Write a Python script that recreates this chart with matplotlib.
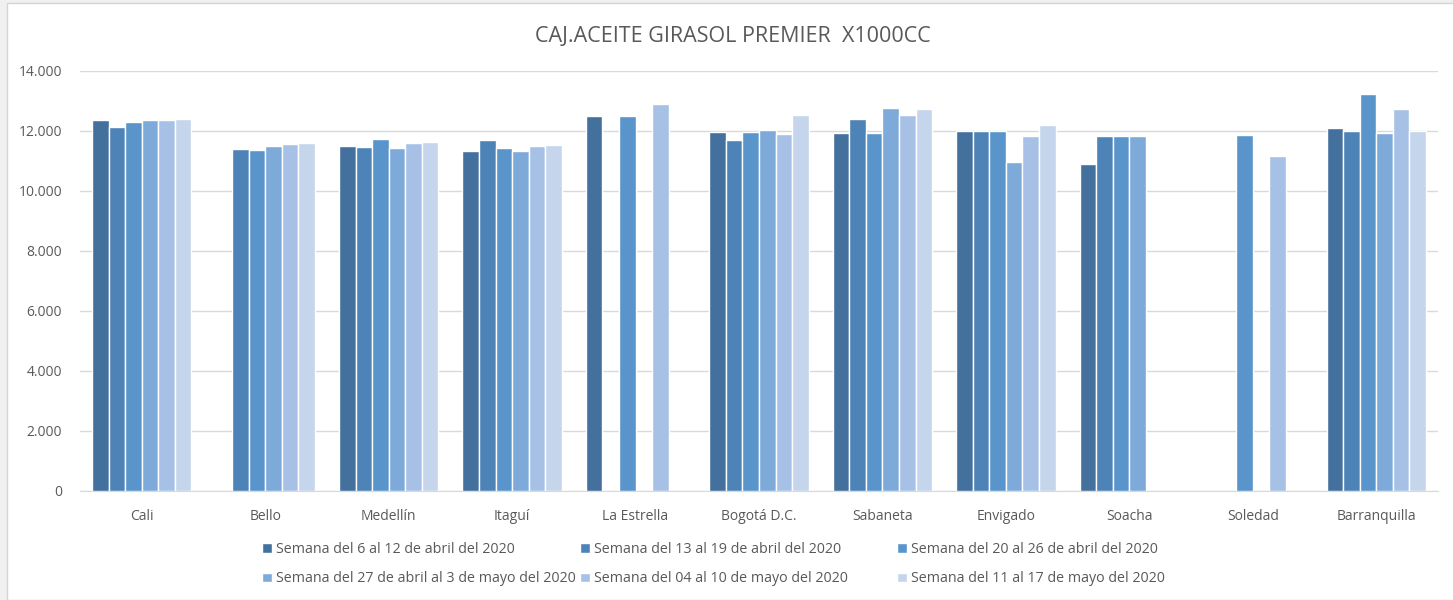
import matplotlib.pyplot as plt
import numpy as np
from matplotlib.patches import Rectangle
from matplotlib.ticker import FuncFormatter

ciudades = ["Cali", "Bello", "Medellín", "Itaguí", "La Estrella", "Bogotá D.C.",
            "Sabaneta", "Envigado", "Soacha", "Soledad", "Barranquilla"]

semanas = ["Semana del 6 al 12 de abril del 2020",
           "Semana del 13 al 19 de abril del 2020",
           "Semana del 20 al 26 de abril del 2020",
           "Semana del 27 de abril al 3 de mayo del 2020",
           "Semana del 04 al 10 de mayo del 2020",
           "Semana del 11 al 17 de mayo del 2020"]

nan = np.nan
sem1 = [12367, nan, 11500, 11333, 12490, 11967, 11933, 12000, 10911, nan, 12111]
sem2 = [12133, 11411, 11467, 11700, nan, 11700, 12400, 12000, 11844, nan, 11990]
sem3 = [12289, 11356, 11733, 11444, 12490, 11967, 11933, 12000, 11844, 11878, 13244]
sem4 = [12367, 11500, 11422, 11333, nan, 12022, 12778, 10978, 11844, nan, 11933]
sem5 = [12367, 11556, 11589, 11500, 12900, 11900, 12522, 11844, nan, 11178, 12722]
sem6 = [12400, 11589, 11644, 11533, nan, 12522, 12722, 12200, nan, nan, 11990]
series = [sem1, sem2, sem3, sem4, sem5, sem6]

colores = ["#43709c", "#4d83b6", "#5995cb", "#7eaad9", "#a6c1e5", "#c5d5eb"]

plt.rcParams['font.family'] = ['Open Sans', 'DejaVu Sans']
gris = "#595959"

W, H = 1453, 600
fig = plt.figure(figsize=(W / 100, H / 100), dpi=100, facecolor="#f0f0f0")
# area blanca del grafico (como en Excel), con borde gris a la izquierda y arriba
fondo = Rectangle((7 / W, 0), 1, 1 - 3 / H, transform=fig.transFigure,
                  facecolor="white", edgecolor="#d4d4d4", linewidth=1, zorder=-10)
fig.patches.append(fondo)

ax = fig.add_axes([80 / W, 1 - 491 / H, 1358 / W, 420 / H])
ax.set_facecolor("white")

x = np.arange(len(ciudades))
paso = 0.134
handles = []
for i, (vals, col) in enumerate(zip(series, colores)):
    b = ax.bar(x + (i - 2.5) * paso, vals, width=paso, color=col,
               edgecolor="white", linewidth=1.0, label=semanas[i], zorder=3)
    handles.append(b)

ax.set_xlim(-0.5, len(ciudades) - 0.5)
ax.set_ylim(0, 14000)
ax.set_yticks(np.arange(0, 14001, 2000))
ax.yaxis.set_major_formatter(FuncFormatter(lambda v, p: "0" if v == 0 else f"{int(v):,}".replace(",", ".")))
ax.set_xticks(x)
ax.set_xticklabels(ciudades)
ax.tick_params(axis='both', length=0, colors=gris, labelsize=10)
ax.tick_params(axis='x', pad=13)
ax.tick_params(axis='y', pad=13)
ax.grid(axis='y', color="#d9d9d9", linewidth=1, zorder=0)
for s in ["top", "right", "left"]:
    ax.spines[s].set_visible(False)
ax.spines["bottom"].set_color("#d9d9d9")

fig.text(733 / W, 1 - 36 / H, "CAJ.ACEITE GIRASOL PREMIER  X1000CC", ha="center", va="center",
         fontsize=15.5, color=gris)

# leyenda en tres columnas de igual ancho, llenada por filas
col_x = [262, 580, 897]
for c in range(3):
    idx = [c, c + 3]
    fig.legend([handles[i] for i in idx], [semanas[i] for i in idx],
               loc="center left", bbox_to_anchor=(col_x[c] / W, 1 - 564 / H),
               frameon=False, fontsize=10.25, handlelength=0.7, handleheight=0.7,
               handletextpad=0.3, labelspacing=1.05, borderpad=0, borderaxespad=0,
               labelcolor=gris)

fig.savefig("out.png", dpi=100, facecolor=fig.get_facecolor())
